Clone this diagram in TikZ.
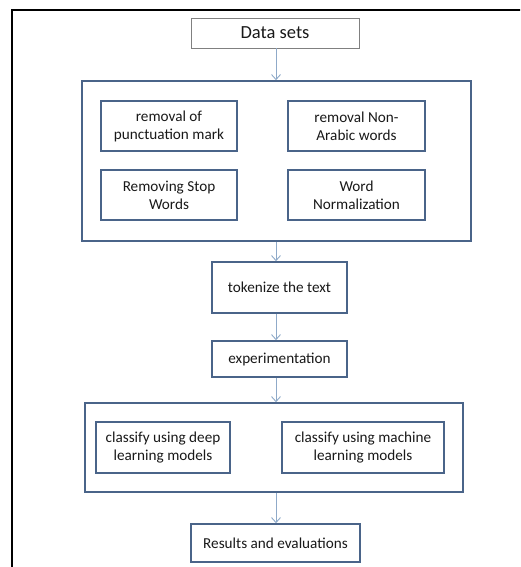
\documentclass[tikz,border=0pt]{standalone}
\usepackage{fontspec}
\setmainfont{Carlito}
\usetikzlibrary{arrows.meta}
\definecolor{boxblue}{HTML}{4A6489}
\definecolor{arrowblue}{HTML}{8FAAC9}
\definecolor{grayedge}{HTML}{808080}
\begin{document}
\begin{tikzpicture}[x=1pt,y=-1pt,
  inner/.style={draw=boxblue,line width=1.6pt,rectangle,inner sep=0pt,align=center,font=\fontsize{15.2}{18}\selectfont,text=black!90},
  group/.style={draw=boxblue,line width=1.6pt,rectangle,inner sep=0pt},
  flow/.style={draw=arrowblue,line width=0.9pt,-{Straight Barb[length=5pt,width=9pt]}}]
\useasboundingbox (0,0) rectangle (520,567);
\clip (0,0) rectangle (520,567);
\fill[white] (0,0) rectangle (520,567);
\node[draw=black,line width=1.6pt,minimum width=530pt,minimum height=580pt,inner sep=0pt,anchor=north west] (frame) at (11,9) {};
\node[draw=grayedge,line width=0.8pt,minimum width=168pt,minimum height=30pt,inner sep=0pt,font=\fontsize{18.5}{21}\selectfont,text=black!90] (ds) at (275,33) {Data sets};
\node[group,minimum width=389pt,minimum height=160pt] (g1) at (276.5,161) {};
\node[inner,minimum width=136pt,minimum height=50pt] (a) at (169,126) {removal of\\punctuation mark};
\node[inner,minimum width=137pt,minimum height=50pt] (b) at (356.5,126) {removal Non-\\Arabic words};
\node[inner,minimum width=136pt,minimum height=50pt] (c) at (169,195) {Removing Stop\\Words};
\node[inner,minimum width=137pt,minimum height=50pt] (d) at (356.5,195) {Word\\Normalization};
\node[inner,minimum width=135pt,minimum height=51pt] (tok) at (279.5,287.5) {tokenize the text};
\node[inner,minimum width=135pt,minimum height=36pt] (exp) at (279.5,359) {experimentation};
\node[group,minimum width=378pt,minimum height=89pt] (g2) at (274,447.5) {};
\node[inner,minimum width=134pt,minimum height=51pt] (e) at (163,447.5) {classify using deep\\learning models};
\node[inner,minimum width=162pt,minimum height=51pt] (f) at (363,447.5) {classify using machine\\learning models};
\node[inner,minimum width=169pt,minimum height=38pt] (res) at (275.5,543) {Results and evaluations};
\coordinate (x0) at (276,0);
\draw[flow] (x0 |- ds.south) -- (x0 |- g1.north);
\draw[flow] (x0 |- g1.south) -- (x0 |- tok.north);
\draw[flow] (x0 |- tok.south) -- (x0 |- exp.north);
\draw[flow] (x0 |- exp.south) -- (x0 |- g2.north);
\draw[flow] (x0 |- g2.south) -- (x0 |- res.north);
\end{tikzpicture}
\end{document}
